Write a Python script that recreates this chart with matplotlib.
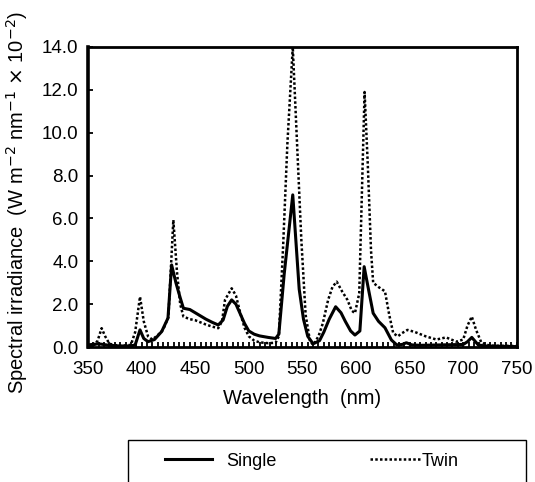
import matplotlib
matplotlib.use("Agg")
from matplotlib import pyplot as plt
from matplotlib.patches import Rectangle
from matplotlib.ticker import MultipleLocator

plt.rcParams["font.family"] = ["Liberation Sans", "DejaVu Sans"]

# spectral irradiance (W m-2 nm-1 x 10-2)
single_nm = [350, 360, 370, 380, 390, 394, 398.5, 402, 406, 412, 418.7, 424.6, 428,
             432, 436, 439, 445, 450, 455, 460, 466, 471.5, 476, 480, 484, 488, 492,
             496, 500, 505, 510, 518, 525, 528, 533, 541, 547, 551, 555, 560, 566,
             570, 575, 581, 586, 590, 595, 599, 603.6, 607.6, 612, 616, 621, 627,
             633, 638, 643, 647, 652, 660, 680, 700, 704, 708, 714, 720, 750]
single = [0.10, 0.15, 0.08, 0.05, 0.05, 0.10, 0.80, 0.40, 0.25, 0.35, 0.72, 1.35, 3.83,
          3.00, 2.30, 1.81, 1.75, 1.60, 1.45, 1.30, 1.15, 1.03, 1.26, 1.90, 2.20, 2.00, 1.55,
          1.10, 0.75, 0.60, 0.52, 0.45, 0.40, 0.60, 3.40, 7.10, 2.70, 1.30, 0.50, 0.15, 0.30,
          0.70, 1.30, 1.88, 1.60, 1.20, 0.75, 0.56, 0.75, 3.75, 2.60, 1.58, 1.20, 0.90,
          0.33, 0.10, 0.12, 0.20, 0.10, 0.08, 0.10, 0.12, 0.25, 0.45, 0.10, 0.05, 0.02]

twin_nm = [350, 356, 359, 362.7, 366, 370, 380, 390, 394, 398.5, 402, 406, 410, 415,
           420, 425, 429.6, 433, 436, 439, 445, 450, 455, 460, 466, 471.5, 475, 477.8,
           484, 488, 492, 496, 500, 505, 510, 518, 525, 528, 532, 536, 541, 545, 549,
           553, 557, 560, 565, 569, 574, 578, 582, 587, 592, 596, 599, 603, 608, 611,
           614, 616, 621, 627, 631, 634.7, 639, 643, 648, 655, 665, 675, 684, 693.7,
           700, 704, 708, 712, 717, 725, 750]
twin = [0.05, 0.10, 0.30, 0.88, 0.50, 0.15, 0.05, 0.10, 0.70, 2.35, 1.20, 0.50, 0.35, 0.55,
        0.80, 1.40, 5.93, 3.50, 2.00, 1.42, 1.30, 1.25, 1.15, 1.05, 0.95, 0.88, 1.20, 2.20,
        2.74, 2.40, 1.60, 0.90, 0.50, 0.30, 0.22, 0.18, 0.20, 0.50, 4.70, 9.50, 14.00, 9.50,
        5.00, 1.50, 0.30, 0.10, 0.50, 1.10, 2.20, 2.80, 3.05, 2.60, 2.20, 1.70, 1.58, 2.50,
        11.90, 8.50, 4.50, 3.00, 2.80, 2.60, 1.50, 0.65, 0.50, 0.65, 0.80, 0.70, 0.50, 0.35,
        0.45, 0.25, 0.35, 1.00, 1.42, 0.80, 0.20, 0.06, 0.05]

xticks = [350, 400, 450, 500, 550, 600, 650, 700, 750]
yticks = [0, 2, 4, 6, 8, 10, 12, 14]

fig = plt.figure(figsize=(5.35, 4.82), dpi=100)
ax = fig.add_axes([0.1645, 0.280, 0.8015, 0.6225])

(lineSingle,) = ax.plot(single_nm, single, color="black", linewidth=2.2,
                        solid_joinstyle="round")
(lineTwin,) = ax.plot(twin_nm, twin, color="black", linewidth=1.8,
                      linestyle=(0, (1, 0.9)))

ax.set_xlim(350, 750)
ax.set_ylim(0, 14)
ax.set_xticks(xticks)
ax.set_yticks(yticks)
ax.set_yticklabels([f"{v:.1f}" for v in yticks])
ax.xaxis.set_minor_locator(MultipleLocator(5))
ax.tick_params(labelsize=13.5, direction="in", length=3.5, width=1.3, pad=7)
ax.tick_params(axis="x", pad=10)
ax.tick_params(axis="x", which="minor", direction="in", length=3.5, width=1.3)
for side in ax.spines.values():
    side.set_linewidth(2.0)
ax.spines["left"].set_linewidth(2.6)

ax.set_xlabel("Wavelength  (nm)", fontsize=14.5, labelpad=8)
ax.set_ylabel(r"Spectral irradiance  (W m$^{-2}$ nm$^{-1}$ $\times$ 10$^{-2}$)",
              fontsize=14.5)
ax.yaxis.set_label_coords(-0.135, 0.483)

# legend box, its lower edge runs off the figure
box = Rectangle((128 / 535, -0.2), (526 - 128) / 535, 0.2 + 1 - 440 / 482,
                transform=fig.transFigure, fill=False, edgecolor="black",
                linewidth=1.0, clip_on=False)
fig.patches.append(box)

legY = 1 - 461 / 482
legSingle = fig.legend([lineSingle], ["Single"], loc="center left",
                       bbox_to_anchor=(165 / 535, legY), frameon=False, fontsize=13,
                       handlelength=2.6, handletextpad=0.8, borderpad=0,
                       borderaxespad=0)
legTwin = fig.legend([lineTwin], ["Twin"], loc="center left",
                     bbox_to_anchor=(370 / 535, legY), frameon=False, fontsize=13,
                     handlelength=2.75, handletextpad=0.1, borderpad=0,
                     borderaxespad=0)

fig.savefig("out.png", dpi=100)
